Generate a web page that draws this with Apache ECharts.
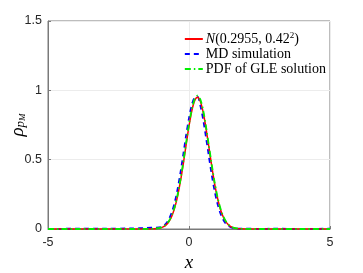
<!DOCTYPE html>
<html><head><meta charset="utf-8">
<script src="https://cdn.jsdelivr.net/npm/echarts@6/dist/echarts.min.js"></script>
<style>html,body{margin:0;padding:0;background:#fff}#c{width:363px;height:273px}</style>
</head><body><div id="c"></div>
<script>
var xs = [-5,-4,-3,-2,-1.5,-1.2,-1.0,-0.9,-0.8,-0.7,-0.6,-0.5,-0.4,-0.3,-0.2,-0.1,0.0,0.1,0.2,0.3,0.4,0.5,0.6,0.7,0.8,0.9,1.0,1.1,1.2,1.3,1.4,1.5,1.6,1.7,1.8,2,2.5,3,4,5];
var normalVals = [0,0,0,0,0.0003,0.002,0.0082,0.0165,0.0316,0.0573,0.0979,0.158,0.241,0.348,0.474,0.610,0.742,0.852,0.926,0.950,0.921,0.844,0.730,0.597,0.462,0.337,0.233,0.152,0.0935,0.0544,0.0299,0.0156,0.0076,0.0035,0.0016,0.0003,0,0,0,0];
var mdVals = [0.001,0.002,0.003,0.004,0.008,0.010,0.013,0.023,0.043,0.076,0.126,0.197,0.293,0.410,0.542,0.678,0.800,0.895,0.948,0.955,0.893,0.792,0.665,0.530,0.398,0.283,0.190,0.121,0.073,0.041,0.022,0.011,0.005,0.003,0.002,0.002,0.001,0.002,0.001,0.002];
var gleVals = [0,0,0,0,0.0005,0.003,0.010,0.019,0.035,0.062,0.104,0.166,0.252,0.360,0.487,0.624,0.755,0.864,0.937,0.962,0.935,0.857,0.742,0.607,0.472,0.346,0.240,0.158,0.098,0.058,0.032,0.017,0.008,0.004,0.002,0.0004,0,0,0,0];
var legendNames = ['N(0.2955, 0.42²)','MD simulation','PDF of GLE solution'];
var legendRich = {};
legendRich[legendNames[0]] = '{n|N}(0.2955, 0.42{s|2})';

function pairs(v){return xs.map(function(x,i){return [x,v[i]];});}
var chart = echarts.init(document.getElementById('c'));
var axisCol = '#262626';
var serif = 'Liberation Serif, Times New Roman, serif';
chart.setOption({
  animation:false,
  grid:{left:48,right:33,top:21,bottom:44,show:true,borderColor:'#7a7a7a',borderWidth:1,outerBoundsMode:'none',containLabel:false},
  legend:{
    top:26,right:32,orient:'vertical',itemWidth:18,itemHeight:10,itemGap:0,
    itemStyle:{color:'rgba(0,0,0,0)',borderWidth:0},
    formatter:function(n){return legendRich[n]||n;},
    textStyle:{fontFamily:serif,fontSize:14,color:'#000',lineHeight:15,padding:[0,0,0,-2],
      rich:{n:{fontFamily:serif,fontStyle:'italic',fontSize:14,color:'#000'},
            s:{fontFamily:serif,fontSize:9,color:'#000',padding:[0,0,7,0]}}},
    data:legendNames
  },
  xAxis:{type:'value',min:-5,max:5,interval:5,
    name:'x',nameLocation:'middle',nameGap:24,
    nameTextStyle:{fontFamily:serif,fontStyle:'italic',fontSize:19,color:'#000'},
    axisLine:{onZero:false,lineStyle:{color:'#7a7a7a'}},
    axisTick:{inside:true,length:3,lineStyle:{color:'#7a7a7a'}},
    axisLabel:{color:axisCol,fontSize:12.5,fontFamily:'Liberation Sans, Arial, sans-serif',margin:7},
    splitLine:{show:true,lineStyle:{color:'#ececec'}}},
  yAxis:{type:'value',min:0,max:1.5,interval:0.5,
    name:'{a|ρ}{b|p}{c|M}',nameLocation:'middle',nameGap:20,nameMoveOverlap:false,
    nameTextStyle:{rich:{
      a:{fontFamily:serif,fontStyle:'italic',fontSize:19,color:'#000',lineHeight:20},
      b:{fontFamily:serif,fontStyle:'italic',fontSize:13,color:'#000',padding:[5,0,0,0]},
      c:{fontFamily:serif,fontStyle:'italic',fontSize:9,color:'#000',padding:[10,0,0,0]}
    }},
    axisLine:{show:true,onZero:false,lineStyle:{color:'#7a7a7a'}},
    axisTick:{show:true,inside:true,length:3,lineStyle:{color:'#7a7a7a'}},
    axisLabel:{color:axisCol,fontSize:12.5,fontFamily:'Liberation Sans, Arial, sans-serif',margin:6},
    splitLine:{show:true,lineStyle:{color:'#ececec'}}},
  series:[
    {name:legendNames[0],type:'line',data:pairs(normalVals),smooth:0.3,showSymbol:false,symbol:'none',
     lineStyle:{color:'#ff0000',width:1.5},itemStyle:{color:'#ff0000'},z:3},
    {name:legendNames[1],type:'line',data:pairs(mdVals),smooth:0.3,showSymbol:false,symbol:'none',
     lineStyle:{color:'#0000ff',width:1.8,type:[5,4]},itemStyle:{color:'#0000ff'},z:2},
    {name:legendNames[2],type:'line',data:pairs(gleVals),smooth:0.3,showSymbol:false,symbol:'none',
     lineStyle:{color:'#00ee00',width:1.8,type:[6,3,1.5,3]},itemStyle:{color:'#00ee00'},z:4}
  ]
});
</script></body></html>
